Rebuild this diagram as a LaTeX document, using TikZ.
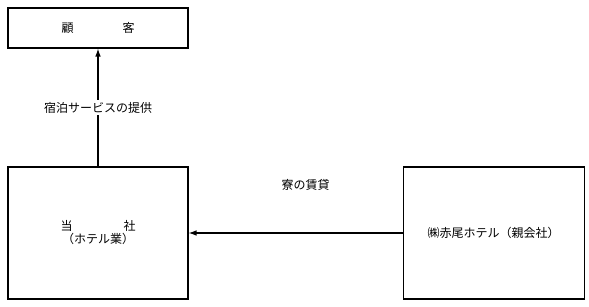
\documentclass[tikz,border=0pt]{standalone}
\usepackage{fontspec}
\setmainfont{Noto Sans CJK JP}
\usetikzlibrary{positioning, arrows.meta}

\begin{document}
\begin{tikzpicture}[
  x=1pt, y=-1pt,
  font=\fontsize{12}{14}\selectfont,
  arrow/.style={-{Latex[length=2.8mm, width=2mm]}, line width=1.2pt},
  box/.style={draw, line width=1.2pt, align=center, inner sep=0pt},
  lbl/.style={fill=white, inner sep=2pt},
]
\useasboundingbox (0,0) rectangle (589,307);

% --- Three boxes ---
\node[box, minimum width=180pt, minimum height=40pt] (kokyaku) at (98,28) {顧\hspace{49pt}客};
\node[box, minimum width=180pt, minimum height=132pt] (tosha) at (98,233)
  {当\hspace{51pt}社\\[-1pt]（ホテル業）};
\node[box, minimum width=181pt, minimum height=132pt, right=214pt of tosha] (oya)
  {㈱赤尾ホテル（親会社）};

% --- Arrows ---
\draw[arrow] (tosha.north) -- node[lbl] {宿泊サービスの提供} (kokyaku.south);
\draw[arrow] (oya.west) -- (tosha.east);
\node[above=48pt of tosha.east, anchor=center, xshift=117pt] (ryo) {寮の賃貸};

\end{tikzpicture}
\end{document}
